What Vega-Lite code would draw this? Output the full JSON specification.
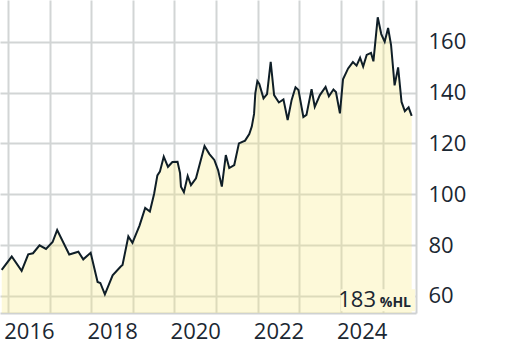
{
  "$schema": "https://vega.github.io/schema/vega-lite/v6.json",
  "width": 416,
  "height": 313,
  "autosize": "none",
  "padding": {"left": 0, "top": 0, "right": 96, "bottom": 33},
  "background": "#ffffff",
  "config": {
    "view": {"stroke": null},
    "font": "Open Sans"
  },
  "datasets": {
    "series": [
      {"date": "2015-11-06", "value": 70.3},
      {"date": "2016-02-02", "value": 75.5},
      {"date": "2016-04-29", "value": 69.9},
      {"date": "2016-06-26", "value": 76.4},
      {"date": "2016-08-07", "value": 76.8},
      {"date": "2016-10-03", "value": 79.9},
      {"date": "2016-11-29", "value": 78.5},
      {"date": "2017-01-26", "value": 81.2},
      {"date": "2017-03-07", "value": 85.9},
      {"date": "2017-06-21", "value": 76.3},
      {"date": "2017-09-09", "value": 77.4},
      {"date": "2017-10-22", "value": 74.4},
      {"date": "2017-12-26", "value": 77.0},
      {"date": "2018-02-25", "value": 65.5},
      {"date": "2018-03-21", "value": 65.1},
      {"date": "2018-04-30", "value": 60.6},
      {"date": "2018-07-07", "value": 68.1},
      {"date": "2018-09-16", "value": 71.6},
      {"date": "2018-10-02", "value": 72.2},
      {"date": "2018-11-22", "value": 83.4},
      {"date": "2018-12-28", "value": 80.9},
      {"date": "2019-02-28", "value": 87.7},
      {"date": "2019-04-19", "value": 94.6},
      {"date": "2019-05-30", "value": 93.2},
      {"date": "2019-07-06", "value": 100.1},
      {"date": "2019-08-04", "value": 107.4},
      {"date": "2019-08-26", "value": 108.9},
      {"date": "2019-09-29", "value": 114.8},
      {"date": "2019-11-05", "value": 110.8},
      {"date": "2019-12-14", "value": 112.7},
      {"date": "2020-01-28", "value": 112.8},
      {"date": "2020-02-19", "value": 108.3},
      {"date": "2020-02-27", "value": 103.0},
      {"date": "2020-03-24", "value": 100.8},
      {"date": "2020-04-26", "value": 107.2},
      {"date": "2020-05-25", "value": 103.6},
      {"date": "2020-07-08", "value": 106.3},
      {"date": "2020-09-21", "value": 119.0},
      {"date": "2020-11-03", "value": 115.8},
      {"date": "2020-12-16", "value": 113.5},
      {"date": "2021-01-18", "value": 109.5},
      {"date": "2021-02-20", "value": 103.0},
      {"date": "2021-03-27", "value": 115.4},
      {"date": "2021-04-26", "value": 110.3},
      {"date": "2021-06-09", "value": 111.5},
      {"date": "2021-07-20", "value": 120.0},
      {"date": "2021-09-12", "value": 121.1},
      {"date": "2021-10-19", "value": 123.7},
      {"date": "2021-11-10", "value": 126.6},
      {"date": "2021-11-30", "value": 131.6},
      {"date": "2021-12-11", "value": 139.7},
      {"date": "2021-12-29", "value": 144.5},
      {"date": "2022-01-15", "value": 143.4},
      {"date": "2022-02-21", "value": 137.7},
      {"date": "2022-03-24", "value": 139.4},
      {"date": "2022-04-25", "value": 152.1},
      {"date": "2022-05-25", "value": 139.0},
      {"date": "2022-07-06", "value": 136.1},
      {"date": "2022-08-15", "value": 137.3},
      {"date": "2022-09-21", "value": 129.2},
      {"date": "2022-10-26", "value": 137.1},
      {"date": "2022-11-29", "value": 142.1},
      {"date": "2022-12-25", "value": 141.0},
      {"date": "2023-02-06", "value": 130.4},
      {"date": "2023-03-05", "value": 131.2},
      {"date": "2023-04-19", "value": 141.3},
      {"date": "2023-05-17", "value": 134.4},
      {"date": "2023-07-01", "value": 139.0},
      {"date": "2023-08-20", "value": 142.2},
      {"date": "2023-09-18", "value": 138.5},
      {"date": "2023-10-28", "value": 141.2},
      {"date": "2023-11-19", "value": 140.2},
      {"date": "2023-12-24", "value": 131.8},
      {"date": "2024-01-20", "value": 145.2},
      {"date": "2024-03-05", "value": 149.5},
      {"date": "2024-04-16", "value": 152.0},
      {"date": "2024-05-18", "value": 150.6},
      {"date": "2024-06-18", "value": 153.7},
      {"date": "2024-07-15", "value": 150.2},
      {"date": "2024-08-15", "value": 154.8},
      {"date": "2024-09-22", "value": 155.6},
      {"date": "2024-10-13", "value": 152.3},
      {"date": "2024-11-20", "value": 169.6},
      {"date": "2024-12-21", "value": 163.0},
      {"date": "2025-01-20", "value": 160.0},
      {"date": "2025-02-19", "value": 165.4},
      {"date": "2025-03-17", "value": 158.7},
      {"date": "2025-04-17", "value": 142.8},
      {"date": "2025-05-18", "value": 149.9},
      {"date": "2025-06-17", "value": 136.3},
      {"date": "2025-07-16", "value": 132.7},
      {"date": "2025-08-18", "value": 134.2},
      {"date": "2025-09-14", "value": 130.8}
    ],
    "note": [{"big": "183", "small": "%HL"}]
  },
  "layer": [
    {
      "data": {"name": "series"},
      "mark": {"type": "area", "fill": "#f8eb80", "fillOpacity": 0.3, "clip": true},
      "encoding": {
        "x": {
          "field": "date", "type": "temporal",
          "scale": {"type": "utc", "domain": [{"year": 2015, "month": 10, "date": 22, "utc": true}, {"year": 2025, "month": 10, "date": 22, "utc": true}]},
          "axis": {
            "title": null,
            "orient": "bottom",
            "tickCount": {"interval": "year", "step": 1},
            "format": "%Y",
            "labelExpr": "utcyear(datum.value) % 2 == 0 ? datum.label : ''",
            "labelOffset": 20.8,
            "labelOverlap": false,
            "labelBound": false,
            "labelFlush": false,
            "labelFontSize": 22,
            "labelColor": "#1b2732",
            "labelPadding": 8,
            "ticks": false,
            "domain": true,
            "domainColor": "#cfd2d2",
            "domainWidth": 2,
            "grid": true,
            "gridColor": "#d2d5d5",
            "gridWidth": 2
          }
        },
        "y": {
          "field": "value", "type": "quantitative",
          "scale": {"domain": [53.3, 176.4], "nice": false, "zero": false},
          "axis": {
            "title": null,
            "orient": "right",
            "values": [60, 80, 100, 120, 140, 160],
            "labelFontSize": 22,
            "labelColor": "#1b2732",
            "labelPadding": 12,
            "ticks": false,
            "domain": true,
            "domainColor": "#cfd2d2",
            "domainWidth": 2,
            "grid": true,
            "gridColor": "#d2d5d5",
            "gridWidth": 2
          }
        }
      }
    },
    {
      "data": {"name": "series"},
      "mark": {"type": "line", "stroke": "#0f1e27", "strokeWidth": 2, "clip": true},
      "encoding": {
        "x": {"field": "date", "type": "temporal"},
        "y": {"field": "value", "type": "quantitative"}
      }
    },
    {
      "data": {"name": "note"},
      "mark": {"type": "rect", "fill": "#fdf9d9"},
      "encoding": {
        "x": {"datum": {"year": 2024, "month": 1, "date": 3, "utc": true}, "type": "temporal"},
        "x2": {"datum": {"year": 2025, "month": 10, "date": 15, "utc": true}},
        "y": {"datum": 62.6, "type": "quantitative"},
        "y2": {"datum": 54.0}
      }
    },
    {
      "data": {"name": "note"},
      "mark": {"type": "text", "align": "right", "baseline": "alphabetic", "fontSize": 22, "color": "#1b2732", "font": "Open Sans"},
      "encoding": {
        "x": {"datum": {"year": 2024, "month": 11, "date": 5, "utc": true}, "type": "temporal"},
        "y": {"datum": 55.8, "type": "quantitative"},
        "text": {"field": "big"}
      }
    },
    {
      "data": {"name": "note"},
      "mark": {"type": "text", "align": "left", "baseline": "alphabetic", "fontSize": 14, "fontWeight": "bold", "color": "#1b2732", "font": "Open Sans"},
      "encoding": {
        "x": {"datum": {"year": 2024, "month": 12, "date": 8, "utc": true}, "type": "temporal"},
        "y": {"datum": 55.8, "type": "quantitative"},
        "text": {"field": "small"}
      }
    }
  ]
}
